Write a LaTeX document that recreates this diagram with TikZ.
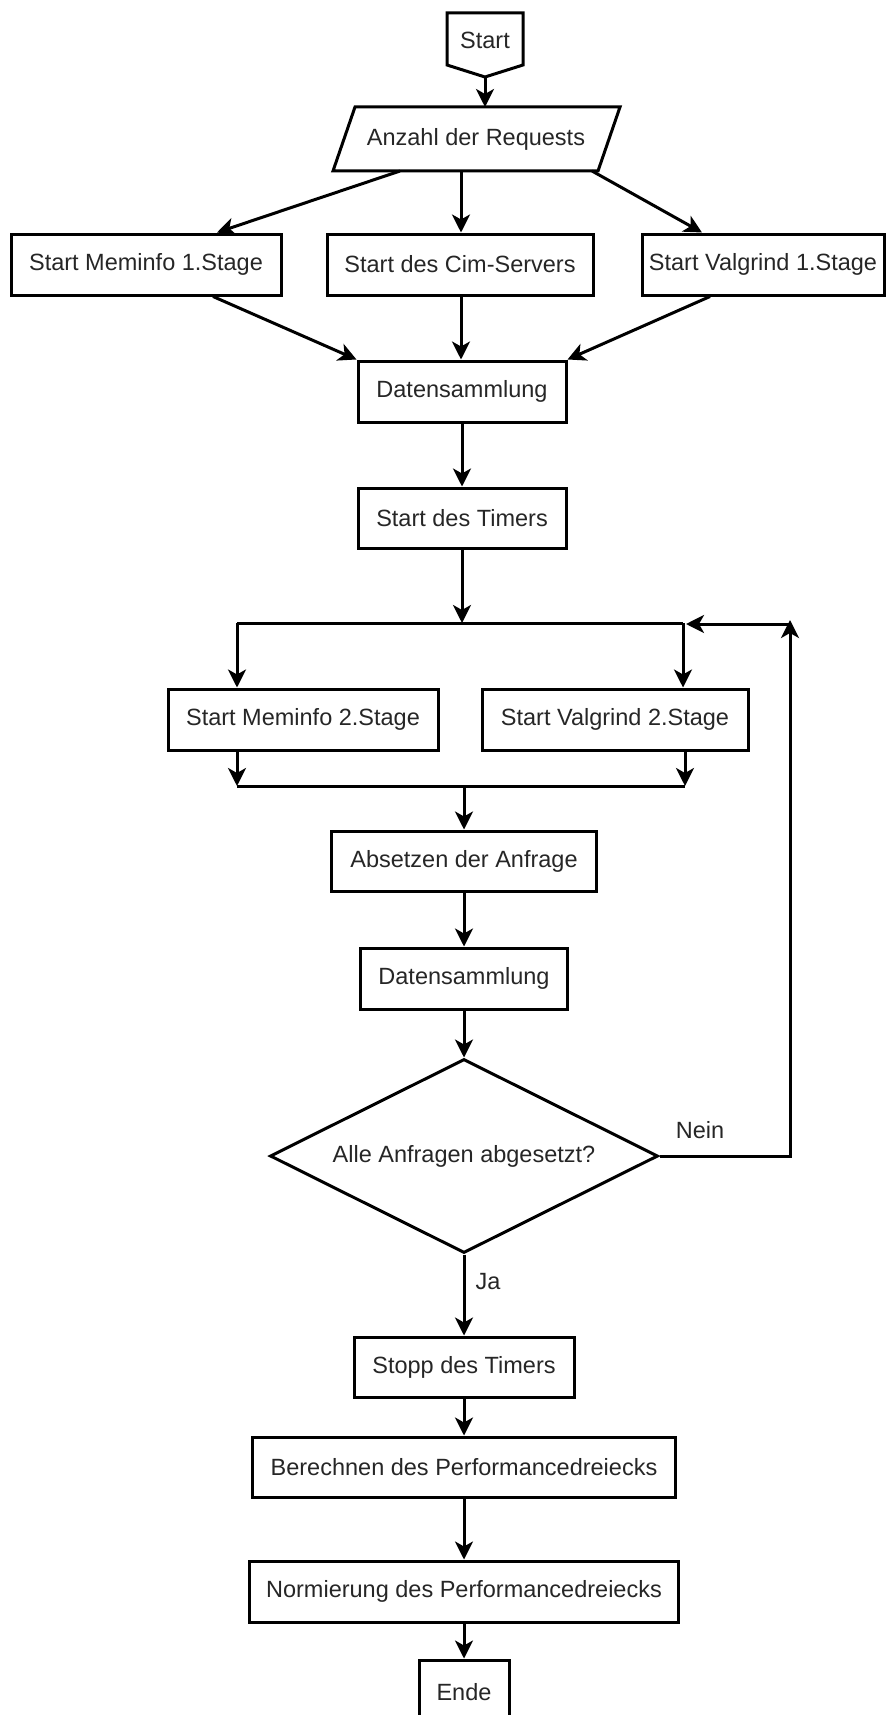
\documentclass[tikz,border=0pt]{standalone}
\usepackage{fontspec}
\setmainfont{Liberation Sans}
\usetikzlibrary{shapes.geometric,arrows.meta,calc}

\begin{document}
\begin{tikzpicture}[x=1pt,y=-1pt,
  every node/.style={font=\fontsize{23.5}{28}\selectfont, text=black!85},
  box/.style={draw, line width=3pt, inner sep=0pt, minimum height=61pt},
  ln/.style={line width=3pt},
  arr/.style={line width=3pt, -{Stealth[length=18pt,width=18pt,inset=5pt]}},
]
\useasboundingbox (0,0) rectangle (895,1715);

% --- start terminal (pointed box) ---
\node (start) at (485,40) {Start};
\draw[ln, line join=miter] (447,13) -- (523,13) -- (523,65) -- (485,77) -- (447,65) -- cycle;
\coordinate (starttip) at (485,77);

% --- input: number of requests ---
\node (req) at (476,139) {Anzahl der Requests};
\draw[ln, line join=miter] (355,107) -- (620,107) -- (598,171) -- (333,171) -- cycle;
\coordinate (reqtop) at (485,107);
\coordinate (reqL) at (400,171);
\coordinate (reqM) at (461,171);
\coordinate (reqR) at (592,171);

% --- first stage ---
\node[box, minimum width=270pt] (mem1) at (146,264.5) {Start Meminfo 1.Stage};
\node[box, minimum width=266pt] (cim)  at (460,264.5) {Start des Cim-Servers};
\node[box, minimum width=242pt] (val1) at (763,264.5) {Start Valgrind 1.Stage};
\node[box, minimum width=208pt] (dat1) at (462,391.5) {Datensammlung};
\node[box, minimum width=208pt, minimum height=60pt] (timer) at (462,518) {Start des Timers};

\draw[arr] (starttip) -- (reqtop);
\draw[arr] (reqL) -- ([xshift=71pt]mem1.north);
\draw[arr] (reqM) -- (reqM |- cim.north);
\draw[arr] (reqR) -- ([xshift=-61pt]val1.north);
\draw[arr] ([xshift=67pt]mem1.south) -- (dat1.north west);
\draw[arr] (reqM |- cim.south) -- (reqM |- dat1.north);
\draw[arr] ([xshift=-53pt]val1.south) -- (dat1.north east);
\draw[arr] (dat1) -- (timer);

% --- second stage with fork and join ---
\coordinate (jt) at (462,623);
\coordinate (jl) at (237,623);
\coordinate (jr) at (683,623);
\node[box, minimum width=270pt] (mem2) at (303,719.5) {Start Meminfo 2.Stage};
\node[box, minimum width=266pt] (val2) at (615,719.5) {Start Valgrind 2.Stage};
\coordinate (bl) at (237,786);
\coordinate (br) at (685,786);
\coordinate (bm) at (464,786);

\draw[arr] (timer.south) -- (jt);
\draw[ln] (jl) -- (jr);
\draw[arr] (jl) -- (jl |- mem2.north);
\draw[arr] (jr) -- (jr |- val2.north);
\draw[arr] (mem2.south -| bl) -- (bl);
\draw[arr] (val2.south -| br) -- (br);
\draw[ln] (bl) -- (br);

% --- request loop ---
\node[box, minimum width=265pt, minimum height=60pt] (abs) at (464,861) {Absetzen der Anfrage};
\node[box, minimum width=207pt] (dat2) at (464,978.5) {Datensammlung};
\node[diamond, draw, line width=3pt, inner sep=0pt, aspect=2,
      minimum width=388pt, minimum height=194pt] (dia) at (464,1156) {Alle Anfragen abgesetzt?};

\draw[arr] (bm) -- (abs.north);
\draw[arr] (abs) -- (dat2);
\draw[arr] (dat2) -- (dia);

\coordinate (lc) at (790,1156);
\coordinate (lt) at (790,620);
\coordinate (lh) at (790,624);
\coordinate (lin) at (686,624);
\draw[arr, line join=miter] (dia.east) -- (lc) -- (lt);
\draw[arr] (lh) -- (lin);
\node (nein) at (700,1130) {Nein};

% --- evaluation ---
\node[box, minimum width=220pt, minimum height=60pt] (stopp) at (464,1367) {Stopp des Timers};
\node[box, minimum width=423pt, minimum height=60pt] (ber) at (464,1467) {Berechnen des Performancedreiecks};
\node[box, minimum width=429pt] (norm) at (464,1591.5) {Normierung des Performancedreiecks};
\node[box, minimum width=90pt, minimum height=64pt] (ende) at (464,1692) {Ende};
\node (ja) at (488,1282) {Ja};

\draw[arr] (dia) -- (stopp);
\draw[arr] (stopp) -- (ber);
\draw[arr] (ber) -- (norm);
\draw[arr] (norm) -- (ende);
\end{tikzpicture}
\end{document}
